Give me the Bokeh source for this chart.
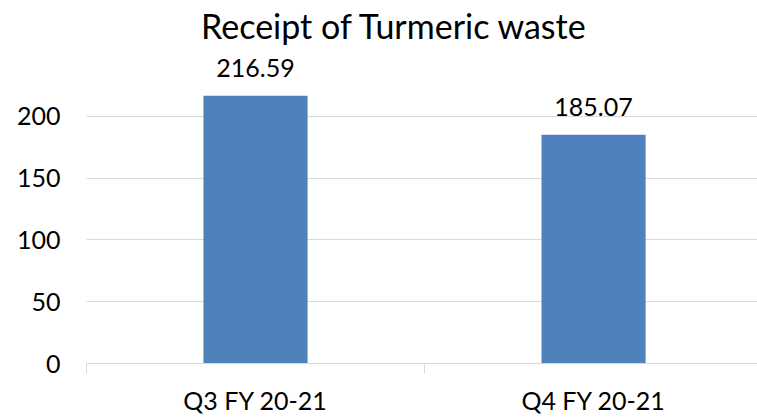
from bokeh.plotting import figure
from bokeh.models import Range1d, FixedTicker, ColumnDataSource, LabelSet, Label
from bokeh.core.properties import value
from bokeh.embed import file_html
from bokeh.resources import INLINE

title_text = "Receipt of Turmeric waste"
categories = ["Q3 FY 20-21", "Q4 FY 20-21"]
values = [216.59, 185.07]
value_labels = ["216.59", "185.07"]
y_ticks = [0, 50, 100, 150, 200]

FONT = "Lato"
BAR = "#4F81BD"
GRID = "#D9D9D9"

W, H = 757, 418
LEFT, BOTTOM = 86, 55
FRAME_H = H - BOTTOM
PX_PER_UNIT = 309 / 250.0
y_max = FRAME_H / PX_PER_UNIT

x_pos = [i + 1 for i in range(len(categories))]
bounds = [i + 0.5 for i in range(len(categories) + 1)]
src = ColumnDataSource(dict(x=x_pos, top=values, label=value_labels))

p = figure(width=W, height=H, output_backend="svg", toolbar_location=None,
           x_range=Range1d(0.5, 2.485), y_range=Range1d(0, y_max),
           min_border_left=LEFT, min_border_right=0, min_border_top=0,
           min_border_bottom=BOTTOM)

title = Label(x=308, y=FRAME_H - 25, x_units="screen", y_units="screen",
              text=title_text, text_align="center", text_baseline="alphabetic",
              text_font=FONT, text_font_size="34px", text_color="#000000")
p.add_layout(title)

p.vbar(x="x", top="top", width=0.308, source=src, fill_color=BAR, line_color=None)

labels = LabelSet(x="x", y="top", text="label", source=src, y_offset=19,
                  text_align="center", text_baseline="alphabetic",
                  text_font=value(FONT), text_font_size=value("25px"),
                  text_color="#000000")
p.add_layout(labels)

xa = p.xaxis[0]
xa.ticker = FixedTicker(ticks=x_pos, minor_ticks=bounds)
xa.major_label_overrides = {x: c for x, c in zip(x_pos, categories)}
xa.major_tick_line_color = None
xa.major_tick_out = 0
xa.major_tick_in = 0
xa.minor_tick_line_color = GRID
xa.minor_tick_in = 0
xa.minor_tick_out = 10
xa.axis_line_color = GRID
xa.major_label_text_font = FONT
xa.major_label_text_font_size = "25px"
xa.major_label_text_color = "#000000"
xa.major_label_standoff = 11

ya = p.yaxis[0]
ya.ticker = FixedTicker(ticks=y_ticks)
ya.axis_line_color = None
ya.major_tick_line_color = None
ya.major_tick_out = 0
ya.major_tick_in = 0
ya.minor_tick_line_color = None
ya.major_label_text_font = FONT
ya.major_label_text_font_size = "25px"
ya.major_label_text_color = "#000000"
ya.major_label_standoff = 26

p.xgrid.grid_line_color = None
p.ygrid.grid_line_color = GRID
p.ygrid.ticker = FixedTicker(ticks=y_ticks)
p.outline_line_color = None
p.background_fill_color = "white"
p.border_fill_color = "white"

open("out.html", "w").write(file_html(p, INLINE))
